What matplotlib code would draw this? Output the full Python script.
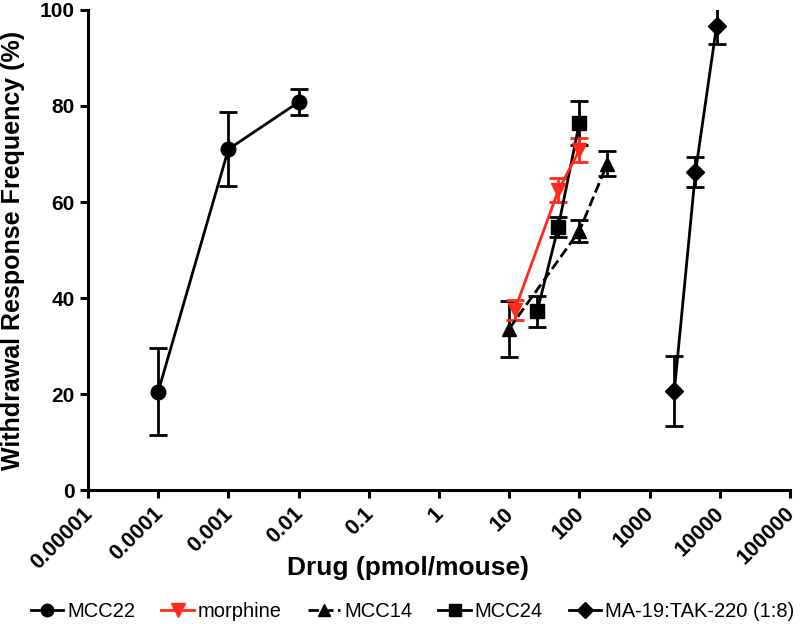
import matplotlib.pyplot as plt
import matplotlib.transforms as mtransforms
from matplotlib.lines import Line2D

plt.rcParams['font.family'] = ['Liberation Sans', 'DejaVu Sans']

# MCC22
mcc22_x = [0.0001, 0.001, 0.01]
mcc22_y = [20.5, 71.0, 80.8]
mcc22_err = [9.0, 7.7, 2.7]

# morphine
morph_x = [12, 50, 100]
morph_y = [37.5, 62.4, 70.8]
morph_err = [2.0, 2.5, 2.5]

# MCC14
mcc14_x = [10, 100, 250]
mcc14_y = [33.6, 54.0, 68.0]
mcc14_err = [5.8, 2.3, 2.6]

# MCC24
mcc24_x = [25, 50, 100]
mcc24_y = [37.2, 54.8, 76.5]
mcc24_err = [3.3, 2.0, 4.6]

# MA-19:TAK-220 (1:8)
ma19_x = [2250, 4500, 9000]
ma19_y = [20.6, 66.2, 96.7]
ma19_err = [7.3, 3.1, 3.8]

xticks = [1e-5, 1e-4, 1e-3, 1e-2, 1e-1, 1, 10, 100, 1000, 10000, 100000]
xticklabels = ['0.00001', '0.0001', '0.001', '0.01', '0.1', '1', '10', '100',
               '1000', '10000', '100000']

red = '#ff2a1a'

fig = plt.figure(figsize=(8, 6.24), dpi=100)
ax = fig.add_axes([0.11, 0.2147, 0.8775, 0.7693])

common = dict(capsize=6.5, elinewidth=2.0, capthick=2.0, linewidth=2.0)

ax.errorbar(mcc22_x, mcc22_y, yerr=mcc22_err, color='black', marker='o', markersize=10.5, **common)
ax.errorbar(mcc14_x, mcc14_y, yerr=mcc14_err, color='black', marker='^', markersize=10,
            linestyle='--', **common)
ax.errorbar(mcc24_x, mcc24_y, yerr=mcc24_err, color='black', marker='s', markersize=9.5, **common)
ax.errorbar(ma19_x, ma19_y, yerr=ma19_err, color='black', marker='D', markersize=9, **common)
ax.errorbar(morph_x, morph_y, yerr=morph_err, color=red, marker='v', markersize=10.5, **common)

ax.set_xscale('log')
ax.set_xlim(1e-5, 1e5)
ax.set_ylim(0, 100)
ax.set_xticks(xticks)
ax.set_xticklabels(xticklabels, rotation=45, ha='right', rotation_mode='anchor')
ax.minorticks_off()
ax.set_yticks([0, 20, 40, 60, 80, 100])

for s in ['top', 'right']:
    ax.spines[s].set_visible(False)
for s in ['left', 'bottom']:
    ax.spines[s].set_linewidth(2.2)
ax.tick_params(width=2.2, length=6)
ax.tick_params(axis='x', labelsize=15.5)
ax.tick_params(axis='y', labelsize=15)
for lbl in ax.get_xticklabels() + ax.get_yticklabels():
    lbl.set_fontweight('bold')

# nudge rotated x labels left so the last one stays inside the figure
shift = mtransforms.ScaledTranslation(-6 / 100, 0, fig.dpi_scale_trans)
for lbl in ax.get_xticklabels():
    lbl.set_transform(lbl.get_transform() + shift)

ax.set_xlabel('Drug (pmol/mouse)', fontsize=19, fontweight='bold')
ax.set_ylabel('Withdrawal Response Frequency (%)', fontsize=18, fontweight='bold')
ax.xaxis.set_label_coords(0.456, -0.137)
ax.yaxis.set_label_coords(-0.09, 0.5)

names = ['MCC22', 'morphine', 'MCC14', 'MCC24', 'MA-19:TAK-220 (1:8)']
handles = [
    Line2D([], [], color='black', marker='o', markersize=9, linewidth=2),
    Line2D([], [], color=red, marker='v', markersize=10, linewidth=2),
    Line2D([], [], color='black', marker='^', markersize=9, linewidth=2, linestyle='--'),
    Line2D([], [], color='black', marker='s', markersize=9, linewidth=2),
    Line2D([], [], color='black', marker='D', markersize=8, linewidth=2),
]
fig.legend(handles, names, loc='center', bbox_to_anchor=(0.516, 0.02), ncol=5, frameon=False,
           fontsize=14.5, handlelength=1.6, handletextpad=0.2, columnspacing=1.3)

fig.savefig('out.png', dpi=100)
